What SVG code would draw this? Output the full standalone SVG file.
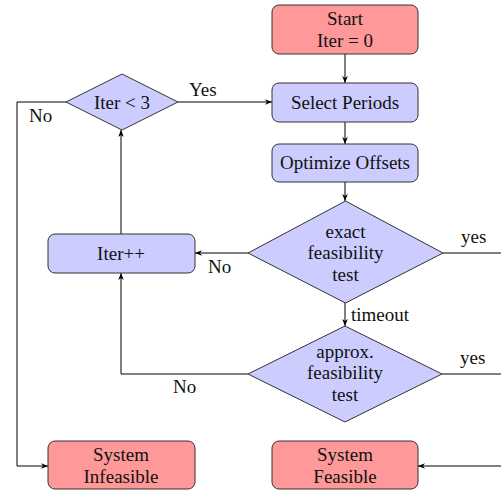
<svg xmlns="http://www.w3.org/2000/svg" width="501" height="496" viewBox="0 0 501 496">
<defs>
<style>
.red{fill:#ff9999;stroke:#333;stroke-width:1}
.blue{fill:#ccccff;stroke:#333;stroke-width:1}
text{font-family:"Liberation Serif","Times New Roman",serif;font-size:19px;fill:#111;text-anchor:middle}
.lbl{text-anchor:start}
.c{fill:none;stroke:#000;stroke-width:1}
</style>
<marker id="a" viewBox="0 0 10 10" refX="10" refY="5" markerWidth="7" markerHeight="7" markerUnits="userSpaceOnUse" orient="auto">
<path d="M0,1 L10,5 L0,9 L3,5 Z" fill="#000"/>
</marker>
</defs>
<g id="connectors">
<path class="c" d="M345,54 V83" marker-end="url(#a)"/>
<path class="c" d="M345,122 V144" marker-end="url(#a)"/>
<path class="c" d="M345,182 V201" marker-end="url(#a)"/>
<path class="c" d="M345,303 V326" marker-end="url(#a)"/>
<path class="c" d="M443,253 H501"/>
<path class="c" d="M442,374 H501"/>
<path class="c" d="M501,466 H418" marker-end="url(#a)"/>
<path class="c" d="M248,253 H195" marker-end="url(#a)"/>
<path class="c" d="M248,374 H121 V273" marker-end="url(#a)"/>
<path class="c" d="M121,234 V130" marker-end="url(#a)"/>
<path class="c" d="M178,102 H272" marker-end="url(#a)"/>
<path class="c" d="M66,102 H17 V466 H48" marker-end="url(#a)"/>
<text class="lbl" x="189" y="96">Yes</text>
<text class="lbl" x="29" y="122">No</text>
<text class="lbl" x="208" y="273">No</text>
<text class="lbl" x="173" y="393">No</text>
<text class="lbl" x="461" y="243">yes</text>
<text class="lbl" x="460" y="364">yes</text>
<text class="lbl" x="351" y="321">timeout</text>
</g>
<g id="start">
<rect class="red" x="272" y="5" width="146" height="49" rx="7"/>
<text x="345" y="25">Start</text>
<text x="345" y="47">Iter = 0</text>
</g>
<g id="select">
<rect class="blue" x="272" y="83" width="146" height="39" rx="7"/>
<text x="345" y="109">Select Periods</text>
</g>
<g id="optimize">
<rect class="blue" x="272" y="144" width="146" height="38" rx="7"/>
<text x="345" y="169">Optimize Offsets</text>
</g>
<g id="exact">
<polygon class="blue" points="345.5,201 443,253 345.5,303 248,253"/>
<text x="345.5" y="238">exact</text>
<text x="345.5" y="259">feasibility</text>
<text x="345.5" y="281">test</text>
</g>
<g id="approx">
<polygon class="blue" points="345,326 442,374 345,422 248,374"/>
<text x="345" y="358">approx.</text>
<text x="345" y="379">feasibility</text>
<text x="345" y="401">test</text>
</g>
<g id="feasible">
<rect class="red" x="272" y="441" width="146" height="48" rx="7"/>
<text x="345" y="461">System</text>
<text x="345" y="483">Feasible</text>
</g>
<g id="iterpp">
<rect class="blue" x="48" y="234" width="147" height="39" rx="7"/>
<text x="121" y="260">Iter++</text>
</g>
<g id="iterlt">
<polygon class="blue" points="122,74 178,102 122,130 66,102"/>
<text x="122" y="109">Iter &lt; 3</text>
</g>
<g id="infeasible">
<rect class="red" x="48" y="441" width="147" height="48" rx="7"/>
<text x="121" y="461">System</text>
<text x="121" y="483">Infeasible</text>
</g>
</svg>
